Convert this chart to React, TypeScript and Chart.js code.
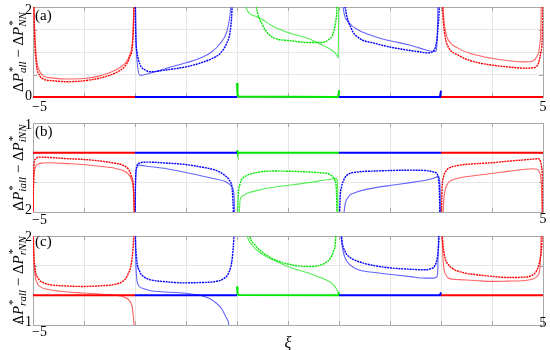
import React, { useEffect, useRef } from 'react';
import { Chart, registerables } from 'chart.js';

Chart.register(...registerables);

type Pt = [number, number];

// ---------- tick labels / text ----------
const xTickValues = [-5, 5];
const xTickText = ['−5', '5'];
const xAxisTitle = 'ξ';
const panelLetters = ['(a)', '(b)', '(c)'];
const aYTickValues = [0, 2];
const aYTickText = ['0', '2'];
const bYTickValues = [-2, 1];
const bYTickText = ['−2', '1'];
const cYTickValues = [-1, 2];
const cYTickText = ['−1', '2'];
const titleSubs: [string, string][] = [['all', 'NN'], ['iall', 'iNN'], ['rall', 'rNN']];

// ---------- panel (a) ----------
const aRed1Solid: Pt[] = [[-5, 3], [-4.97, 1.6], [-4.93, 0.85], [-4.88, 0.6], [-4.8, 0.47], [-4.6, 0.42], [-4.34, 0.4], [-4.0, 0.41], [-3.69, 0.47], [-3.5, 0.54], [-3.36, 0.61], [-3.2, 0.74], [-3.1, 0.95], [-3.04, 1.4], [-3.0, 3]];
const aRed1Dotted: Pt[] = [[-5, 3], [-4.97, 1.4], [-4.93, 0.7], [-4.88, 0.5], [-4.8, 0.4], [-4.6, 0.36], [-4.34, 0.34], [-4.0, 0.36], [-3.69, 0.42], [-3.5, 0.48], [-3.36, 0.55], [-3.2, 0.68], [-3.1, 0.9], [-3.04, 1.3], [-3.0, 3]];
const aBlue1Solid: Pt[] = [[-3, 3], [-2.98, 1.3], [-2.95, 0.7], [-2.9, 0.48], [-2.8, 0.5], [-2.6, 0.56], [-2.38, 0.64], [-2.0, 0.76], [-1.73, 0.86], [-1.5, 1.0], [-1.33, 1.19], [-1.2, 1.45], [-1.14, 1.8], [-1.1, 2.3], [-1.06, 3]];
const aBlue1Dotted: Pt[] = [[-3, 3], [-2.99, 1.6], [-2.96, 1.0], [-2.9, 0.72], [-2.8, 0.6], [-2.7, 0.56], [-2.4, 0.6], [-2.0, 0.67], [-1.73, 0.75], [-1.5, 0.85], [-1.33, 0.97], [-1.2, 1.2], [-1.14, 1.42], [-1.1, 1.9], [-1.07, 3]];
const aGreenSolid: Pt[] = [[-0.95, 3], [-0.83, 2.0], [-0.6, 1.78], [-0.26, 1.55], [0.06, 1.41], [0.4, 1.3], [0.66, 1.16], [0.86, 1.04], [0.96, 0.93], [0.985, 0.88], [1.0, 3]];
const aGreenDotted: Pt[] = [[-0.72, 3], [-0.62, 2.0], [-0.5, 1.6], [-0.4, 1.42], [-0.27, 1.31], [0.06, 1.25], [0.4, 1.21], [0.66, 1.21], [0.8, 1.28], [0.88, 1.4], [0.93, 1.65], [0.96, 2.0], [0.98, 3]];
const aBlue2Solid: Pt[] = [[1.02, 3], [1.08, 2.0], [1.2, 1.65], [1.38, 1.49], [1.71, 1.34], [2.0, 1.25], [2.36, 1.16], [2.6, 1.08], [2.88, 1.01], [2.91, 1.05], [2.93, 1.5], [2.95, 3]];
const aBlue2Dotted: Pt[] = [[1.03, 3], [1.12, 2.0], [1.25, 1.5], [1.38, 1.32], [1.71, 1.19], [2.0, 1.11], [2.36, 1.04], [2.6, 1.0], [2.75, 0.98], [2.85, 1.02], [2.9, 1.15], [2.94, 1.5], [2.97, 2.1], [2.99, 3]];
const aRed2Solid: Pt[] = [[3.0, 3], [3.05, 1.8], [3.1, 1.4], [3.14, 1.27], [3.34, 1.08], [3.6, 0.96], [3.99, 0.86], [4.3, 0.81], [4.65, 0.78], [4.8, 0.8], [4.88, 0.9], [4.93, 1.1], [4.96, 1.6], [4.98, 3]];
const aRed2Dotted: Pt[] = [[3.0, 3], [3.04, 1.8], [3.08, 1.35], [3.14, 1.12], [3.34, 0.93], [3.6, 0.8], [3.99, 0.71], [4.3, 0.67], [4.65, 0.64], [4.8, 0.65], [4.9, 0.72], [4.96, 1.0], [4.99, 1.5], [5.0, 3]];
const aRedFlat1: Pt[] = [[-5, 0], [-3, 0]];
const aBlueFlat1: Pt[] = [[-3, 0], [-1, 0]];
const aGreenFlat: Pt[] = [[-1, 0.31], [-0.99, 0.05], [-0.97, 0.01], [0.97, 0], [0.99, 0.03], [1.0, 0.15]];
const aBlueFlat2: Pt[] = [[1, 0], [2.98, 0], [3.0, 0.14]];
const aRedFlat2: Pt[] = [[3, 0], [5, 0]];

// ---------- panel (b) ----------
const bRed1Solid: Pt[] = [[-5, -3], [-4.99, -1.2], [-4.96, -0.54], [-4.9, -0.38], [-4.8, -0.35], [-4.67, -0.34], [-4.3, -0.37], [-4.02, -0.4], [-3.7, -0.46], [-3.37, -0.54], [-3.14, -0.71], [-3.07, -0.9], [-3.03, -1.3], [-3.0, -3]];
const bRed1Dotted: Pt[] = [[-5, -3], [-4.99, -0.9], [-4.97, -0.3], [-4.93, -0.18], [-4.87, -0.15], [-4.6, -0.17], [-4.35, -0.2], [-4.0, -0.23], [-3.69, -0.28], [-3.45, -0.34], [-3.23, -0.43], [-3.12, -0.58], [-3.07, -0.8], [-3.03, -1.2], [-3.0, -3]];
const bBlue1Solid: Pt[] = [[-3, -3], [-2.99, -1.0], [-2.96, -0.5], [-2.92, -0.42], [-2.8, -0.45], [-2.38, -0.54], [-1.73, -0.77], [-1.45, -0.88], [-1.21, -0.99], [-1.1, -1.15], [-1.06, -1.4], [-1.03, -3]];
const bBlue1Dotted: Pt[] = [[-3, -3], [-2.99, -1.0], [-2.97, -0.5], [-2.91, -0.35], [-2.8, -0.32], [-2.71, -0.32], [-2.4, -0.35], [-2.06, -0.39], [-1.75, -0.47], [-1.41, -0.6], [-1.25, -0.75], [-1.15, -0.93], [-1.09, -1.3], [-1.05, -3]];
const bGreenSolid: Pt[] = [[-0.97, -3], [-0.94, -1.6], [-0.88, -1.45], [-0.81, -1.38], [-0.55, -1.25], [-0.26, -1.16], [0.1, -1.08], [0.4, -1.01], [0.7, -0.93], [0.89, -0.88], [0.94, -0.86], [0.97, -1.0], [0.985, -3]];
const bGreenDotted: Pt[] = [[-1, -3], [-0.98, -1.6], [-0.94, -1.05], [-0.88, -0.85], [-0.81, -0.77], [-0.55, -0.65], [-0.26, -0.62], [0.1, -0.63], [0.4, -0.65], [0.65, -0.68], [0.79, -0.71], [0.88, -0.82], [0.92, -0.93], [0.95, -1.3], [0.97, -3]];
const bBlue2Solid: Pt[] = [[1.07, -3], [1.1, -2.0], [1.18, -1.5], [1.3, -1.36], [1.45, -1.27], [1.75, -1.17], [2.03, -1.1], [2.4, -1.01], [2.69, -0.93], [2.85, -0.86], [2.95, -0.8], [2.98, -1.1], [2.995, -3]];
const bBlue2Dotted: Pt[] = [[1.0, -3], [1.02, -1.6], [1.05, -1.16], [1.1, -0.9], [1.15, -0.77], [1.38, -0.65], [1.7, -0.62], [2.03, -0.6], [2.4, -0.59], [2.69, -0.6], [2.85, -0.65], [2.92, -0.71], [2.95, -0.9], [2.97, -1.4], [2.985, -3]];
const bRed2Solid: Pt[] = [[3.02, -3], [3.05, -1.7], [3.08, -1.27], [3.13, -1.05], [3.21, -0.93], [3.4, -0.84], [3.67, -0.77], [4.0, -0.7], [4.32, -0.63], [4.6, -0.57], [4.78, -0.54], [4.88, -0.56], [4.93, -0.65], [4.97, -1.2], [4.99, -3]];
const bRed2Dotted: Pt[] = [[3.0, -3], [3.02, -1.3], [3.05, -0.82], [3.09, -0.64], [3.14, -0.54], [3.34, -0.43], [3.6, -0.38], [3.99, -0.34], [4.3, -0.29], [4.65, -0.24], [4.85, -0.21], [4.91, -0.2], [4.95, -0.3], [4.97, -0.45], [4.99, -1.0], [5.0, -3]];
const bRedFlat1: Pt[] = [[-5, 0], [-3, 0]];
const bBlueFlat1: Pt[] = [[-3, 0], [-1, 0]];
const bGreenFlat: Pt[] = [[-1, 0.08], [-0.99, 0.01], [-0.97, 0], [1, 0]];
const bBlueFlat2: Pt[] = [[1, 0], [3, 0]];
const bRedFlat2: Pt[] = [[3, 0], [5, 0]];

// ---------- panel (c) ----------
const cRed1Solid: Pt[] = [[-5, 3], [-4.99, 1.6], [-4.96, 0.7], [-4.92, 0.42], [-4.87, 0.3], [-4.67, 0.19], [-4.35, 0.12], [-4.02, 0.08], [-3.7, 0.04], [-3.37, 0.0], [-3.2, -0.07], [-3.1, -0.2], [-3.05, -0.45], [-3.02, -1.0], [-3.0, -2]];
const cRed1Dotted: Pt[] = [[-5, 3], [-4.99, 1.8], [-4.96, 0.92], [-4.9, 0.58], [-4.8, 0.43], [-4.67, 0.36], [-4.4, 0.32], [-4.02, 0.3], [-3.7, 0.32], [-3.37, 0.38], [-3.22, 0.5], [-3.14, 0.7], [-3.07, 1.1], [-3.03, 1.8], [-3.0, 3]];
const cBlue1Solid: Pt[] = [[-3, 3], [-2.99, 1.5], [-2.97, 0.65], [-2.94, 0.36], [-2.85, 0.24], [-2.71, 0.16], [-2.4, 0.11], [-2.06, 0.08], [-1.73, 0.0], [-1.55, -0.1], [-1.41, -0.26], [-1.3, -0.45], [-1.21, -0.76], [-1.16, -1.0], [-1.12, -2]];
const cBlue1Dotted: Pt[] = [[-3, 3], [-2.99, 1.9], [-2.97, 1.26], [-2.91, 0.81], [-2.82, 0.62], [-2.71, 0.53], [-2.4, 0.46], [-2.06, 0.42], [-1.75, 0.43], [-1.41, 0.47], [-1.25, 0.58], [-1.15, 0.81], [-1.09, 1.3], [-1.06, 2.0], [-1.04, 3]];
const cGreenSolid: Pt[] = [[-0.9, 3], [-0.8, 2.0], [-0.7, 1.68], [-0.5, 1.38], [-0.26, 1.17], [0.07, 0.92], [0.4, 0.75], [0.73, 0.53], [0.85, 0.42], [0.92, 0.3], [0.97, 0.15], [1.0, 0.08]];
const cGreenDotted: Pt[] = [[-0.85, 3], [-0.75, 2.0], [-0.65, 1.7], [-0.5, 1.45], [-0.26, 1.2], [0.07, 1.03], [0.4, 0.97], [0.6, 1.0], [0.73, 1.09], [0.83, 1.25], [0.89, 1.48], [0.93, 1.8], [0.96, 3]];
const cBlue2Solid: Pt[] = [[1.01, 3], [1.04, 2.0], [1.08, 1.5], [1.12, 1.26], [1.2, 1.05], [1.38, 0.86], [1.7, 0.77], [2.03, 0.7], [2.4, 0.63], [2.69, 0.58], [2.85, 0.58], [2.92, 0.62], [2.94, 1.0], [2.96, 3]];
const cBlue2Dotted: Pt[] = [[1.02, 3], [1.05, 2.0], [1.12, 1.48], [1.2, 1.3], [1.38, 1.14], [1.7, 1.0], [2.03, 0.92], [2.4, 0.88], [2.69, 0.86], [2.8, 0.9], [2.88, 1.0], [2.93, 1.3], [2.96, 1.9], [2.98, 3]];
const cRed2Solid: Pt[] = [[3.01, 3], [3.03, 1.6], [3.05, 1.0], [3.1, 0.68], [3.14, 0.58], [3.34, 0.53], [3.67, 0.5], [3.99, 0.47], [4.3, 0.48], [4.65, 0.5], [4.82, 0.56], [4.91, 0.7], [4.95, 1.2], [4.97, 3]];
const cRed2Dotted: Pt[] = [[3.0, 3], [3.03, 1.9], [3.08, 1.26], [3.14, 1.05], [3.21, 0.92], [3.4, 0.78], [3.67, 0.7], [4.0, 0.64], [4.32, 0.6], [4.6, 0.61], [4.78, 0.67], [4.88, 0.85], [4.94, 1.2], [4.98, 1.8], [5.0, 3]];
const cRedFlat1: Pt[] = [[-5, 0], [-3, 0]];
const cBlueFlat1: Pt[] = [[-3, 0], [-1, 0]];
const cGreenFlat: Pt[] = [[-1, 0.3], [-0.99, 0.05], [-0.97, 0.01], [0.98, 0], [1.0, 0.1]];
const cBlueFlat2: Pt[] = [[1, 0], [2.98, 0], [3.0, 0.1]];
const cRedFlat2: Pt[] = [[3, 0], [5, 0]];

// ---------- styles ----------
const DARK = { red: '#ff0000', blue: '#0000ff', green: '#00e800' };
const LIGHT = { red: '#ff6464', blue: '#6464ff', green: '#55ee55' };
const GRID = '#e6e6e6';
const BOX = '#a8a8a8';
const FONT = '"Liberation Serif", "DejaVu Serif", serif';
const segColors: ('red' | 'blue' | 'green')[] = ['red', 'blue', 'green', 'blue', 'red'];

type PanelData = { solid: Pt[][]; dotted: Pt[][]; flat: Pt[][] };
const panelData: PanelData[] = [
  { solid: [aRed1Solid, aBlue1Solid, aGreenSolid, aBlue2Solid, aRed2Solid], dotted: [aRed1Dotted, aBlue1Dotted, aGreenDotted, aBlue2Dotted, aRed2Dotted], flat: [aRedFlat1, aBlueFlat1, aGreenFlat, aBlueFlat2, aRedFlat2] },
  { solid: [bRed1Solid, bBlue1Solid, bGreenSolid, bBlue2Solid, bRed2Solid], dotted: [bRed1Dotted, bBlue1Dotted, bGreenDotted, bBlue2Dotted, bRed2Dotted], flat: [bRedFlat1, bBlueFlat1, bGreenFlat, bBlueFlat2, bRedFlat2] },
  { solid: [cRed1Solid, cBlue1Solid, cGreenSolid, cBlue2Solid, cRed2Solid], dotted: [cRed1Dotted, cBlue1Dotted, cGreenDotted, cBlue2Dotted, cRed2Dotted], flat: [cRedFlat1, cBlueFlat1, cGreenFlat, cBlueFlat2, cRedFlat2] },
];

type Layout = {
  top: number; bottom: number; yMin: number; yMax: number; yStep: number;
  yTickValues: number[]; yTickText: string[];
  letterDy: number; xLabelDy: number[]; yLabelDy: number[];
};
const layouts: Layout[] = [
  { top: 7, bottom: 97, yMin: 0, yMax: 2, yStep: 0.5, yTickValues: aYTickValues, yTickText: aYTickText, letterDy: 13, xLabelDy: [10.5, 10.5], yLabelDy: [-1, 3] },
  { top: 123, bottom: 212, yMin: -2, yMax: 1, yStep: 1, yTickValues: bYTickValues, yTickText: bYTickText, letterDy: 13, xLabelDy: [8, 7], yLabelDy: [-2, 2] },
  { top: 236, bottom: 325, yMin: -1, yMax: 2, yStep: 1, yTickValues: cYTickValues, yTickText: cYTickText, letterDy: 10, xLabelDy: [7.5, -2], yLabelDy: [-2.5, 1.5] },
];

function mk(points: Pt[], color: string, kind: 'solid' | 'dotted' | 'flat') {
  return {
    data: points.map(([x, y]) => ({ x, y })),
    borderColor: color,
    backgroundColor: color,
    borderWidth: kind === 'flat' ? 2 : kind === 'dotted' ? 1.4 : 1.1,
    borderDash: kind === 'dotted' ? [2, 0.8] : [],
    showLine: true,
    pointRadius: 0,
    pointHoverRadius: 0,
    cubicInterpolationMode: kind === 'flat' ? 'default' : 'monotone',
    clip: kind === 'flat' ? { left: 0, right: 0, top: 0, bottom: 2 } : 0,
  };
}

function drawYTitle(ctx: CanvasRenderingContext2D, x: number, cy: number, sub1: string, sub2: string) {
  const big = 15;
  const small = 11;
  const f = (size: number, it: boolean) => `${it ? 'italic ' : ''}${size}px ${FONT}`;
  type Item = { t: string; size: number; it: boolean; dy: number };
  const cols: Item[][] = [
    [{ t: 'Δ', size: big, it: false, dy: 0 }],
    [{ t: 'P', size: big, it: true, dy: 0 }],
    [{ t: '*', size: small, it: false, dy: -7 }, { t: sub1, size: small, it: true, dy: 3 }],
    [{ t: ' − ', size: big, it: false, dy: 0 }],
    [{ t: 'Δ', size: big, it: false, dy: 0 }],
    [{ t: 'P', size: big, it: true, dy: 0 }],
    [{ t: '*', size: small, it: false, dy: -7 }, { t: sub2, size: small, it: true, dy: 3 }],
  ];
  const widths = cols.map((col) => Math.max(...col.map((it) => { ctx.font = f(it.size, it.it); return ctx.measureText(it.t).width; })));
  const total = widths.reduce((s, w) => s + w, 0);
  ctx.save();
  ctx.translate(x, cy);
  ctx.rotate(-Math.PI / 2);
  ctx.fillStyle = '#000';
  ctx.textBaseline = 'alphabetic';
  ctx.textAlign = 'left';
  let px = -total / 2;
  cols.forEach((col, i) => {
    col.forEach((it) => {
      ctx.font = f(it.size, it.it);
      ctx.fillText(it.t, px + (it.t === '*' ? 1 : 0), it.dy);
    });
    px += widths[i];
  });
  ctx.restore();
}

function makeDeco(L: Layout, idx: number) {
  return {
    id: 'deco' + idx,
    beforeDatasetsDraw(chart: any) {
      const { ctx, chartArea: a, scales } = chart;
      ctx.save();
      ctx.strokeStyle = BOX;
      ctx.lineWidth = 1;
      const tl = 4;
      for (let v = -4; v <= 4; v += 1) {
        const px = Math.round(scales.x.getPixelForValue(v)) + 0.5;
        ctx.beginPath();
        ctx.moveTo(px, a.bottom); ctx.lineTo(px, a.bottom - tl);
        ctx.moveTo(px, a.top); ctx.lineTo(px, a.top + tl);
        ctx.stroke();
      }
      for (let v = L.yMin + L.yStep; v < L.yMax - 1e-9; v += L.yStep) {
        const py = Math.round(scales.y.getPixelForValue(v)) + 0.5;
        ctx.beginPath();
        ctx.moveTo(a.left, py); ctx.lineTo(a.left + tl, py);
        ctx.moveTo(a.right, py); ctx.lineTo(a.right - tl, py);
        ctx.stroke();
      }
      ctx.strokeRect(Math.round(a.left) + 0.5, Math.round(a.top) + 0.5, Math.round(a.right - a.left), Math.round(a.bottom - a.top));
      ctx.restore();
    },
    afterDraw(chart: any) {
      const { ctx, chartArea: a, scales } = chart;
      ctx.save();
      ctx.fillStyle = '#000';
      ctx.font = `14px ${FONT}`;
      ctx.textBaseline = 'middle';
      L.yTickValues.forEach((v, i) => {
        ctx.textAlign = 'right';
        ctx.fillText(L.yTickText[i], a.left - 1, scales.y.getPixelForValue(v) + L.yLabelDy[i]);
      });
      xTickValues.forEach((v, i) => {
        ctx.textAlign = i === 0 ? 'left' : 'center';
        const px = scales.x.getPixelForValue(v);
        ctx.fillText(xTickText[i], i === 0 ? px - 1 : px, a.bottom + L.xLabelDy[i]);
      });
      ctx.textAlign = 'left';
      ctx.textBaseline = 'alphabetic';
      ctx.font = `15px ${FONT}`;
      ctx.fillText(panelLetters[idx], a.left + 2, a.top + L.letterDy);
      if (idx === 2) {
        ctx.font = `italic 16px ${FONT}`;
        ctx.textAlign = 'center';
        ctx.textBaseline = 'middle';
        ctx.fillText(xAxisTitle, scales.x.getPixelForValue(0), 344);
      }
      ctx.restore();
      drawYTitle(ctx, 23, (a.top + a.bottom) / 2, titleSubs[idx][0], titleSubs[idx][1]);
    },
  };
}

function Panel({ idx }: { idx: number }) {
  const ref = useRef<HTMLCanvasElement>(null);
  useEffect(() => {
    const L = layouts[idx];
    const D = panelData[idx];
    const datasets: any[] = [];
    D.flat.forEach((p, i) => datasets.push(mk(p, DARK[segColors[i]], 'flat')));
    D.dotted.forEach((p, i) => datasets.push(mk(p, DARK[segColors[i]], 'dotted')));
    D.solid.forEach((p, i) => datasets.push(mk(p, LIGHT[segColors[i]], 'solid')));
    const chart = new Chart(ref.current as HTMLCanvasElement, {
      type: 'scatter',
      data: { datasets },
      options: {
        animation: false,
        responsive: false,
        events: [],
        layout: { padding: { top: L.top, right: 7, left: 0, bottom: 0 } },
        plugins: { legend: { display: false }, tooltip: { enabled: false } },
        scales: {
          x: {
            type: 'linear', min: -5, max: 5,
            ticks: { display: false, stepSize: 1 },
            grid: { color: GRID, drawTicks: false },
            border: { display: false },
            afterFit: (s: any) => { s.height = 350 - L.bottom; },
          },
          y: {
            type: 'linear', min: L.yMin, max: L.yMax,
            ticks: { display: false, stepSize: L.yStep },
            grid: { color: GRID, drawTicks: false },
            border: { display: false },
            afterFit: (s: any) => { s.width = 33; },
          },
        },
      } as any,
      plugins: [makeDeco(L, idx)],
    });
    let alive = true;
    const fonts: any = (document as any).fonts;
    if (fonts && fonts.load) {
      Promise.all([
        fonts.load(`15px "Liberation Serif"`),
        fonts.load(`italic 15px "Liberation Serif"`),
      ]).then(() => { if (alive) chart.draw(); }).catch(() => {});
    }
    return () => { alive = false; chart.destroy(); };
  }, [idx]);
  return (
    <canvas
      ref={ref}
      width={550}
      height={350}
      style={{ position: 'absolute', left: 0, top: 0, width: 550, height: 350 }}
    />
  );
}

export default function App() {
  return (
    <div style={{ position: 'fixed', left: 0, top: 0, width: 550, height: 350, background: '#fff', overflow: 'hidden' }}>
      <div style={{ position: 'absolute', left: -1000, top: 0, fontFamily: '"Liberation Serif"' }}>
        <span>Aa</span><i>Aa</i>
      </div>
      <Panel idx={0} />
      <Panel idx={1} />
      <Panel idx={2} />
    </div>
  );
}
